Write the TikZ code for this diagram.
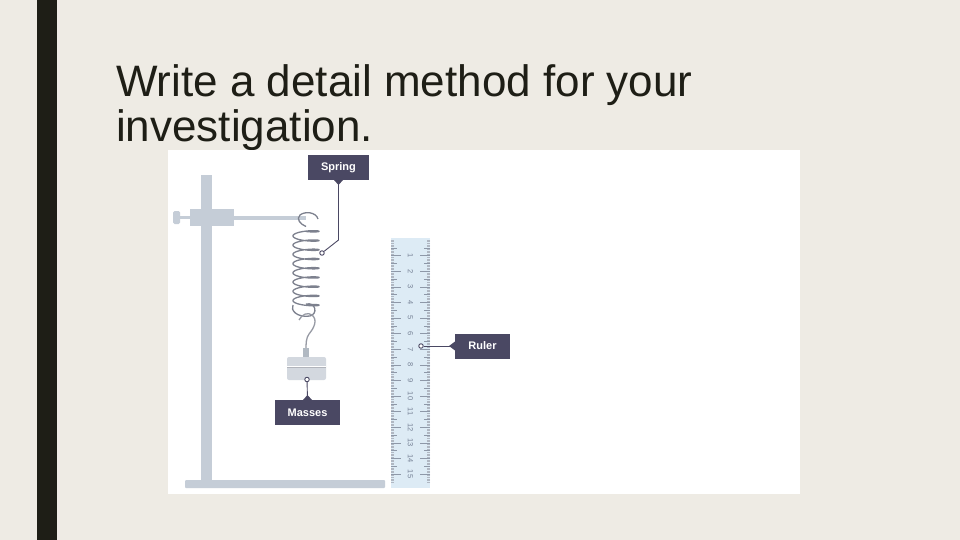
\documentclass[tikz,border=0pt]{standalone}
\usepackage{fontspec}
\setmainfont{Liberation Sans}
\definecolor{bg}{HTML}{EEEBE4}
\definecolor{barc}{HTML}{1E1E16}
\definecolor{standc}{HTML}{C5CDD7}
\definecolor{springc}{HTML}{7D818E}
\definecolor{labc}{HTML}{4A4863}
\definecolor{rulc}{HTML}{DDEBF5}
\definecolor{tickc}{HTML}{8E98A8}
\definecolor{massc}{HTML}{D3D8DF}
\tikzset{
  lab/.style={fill=labc,text=white,font=\bfseries\fontsize{11}{13}\selectfont,inner xsep=0pt,minimum height=25pt},
  lead/.style={draw=labc,line width=0.9pt},
  dot/.style={circle,draw=labc,fill=white,line width=0.9pt,inner sep=0pt,minimum size=4.5pt}
}
\begin{document}
\begin{tikzpicture}[x=1pt,y=-1pt]
\fill[bg] (0,0) rectangle (960,540);
\useasboundingbox (0,0) rectangle (960,540);
\fill[barc] (37,0) rectangle (57,540);
\node[anchor=base west,inner sep=0pt,text=barc,font=\fontsize{44}{45}\selectfont] (t1) at (116,97) {Write a detail method for your};
\node[anchor=base west,inner sep=0pt,text=barc,font=\fontsize{44}{45}\selectfont] (t2) at (116,142) {investigation.};
\fill[white] (168,150) rectangle (800,494);
% stand
\fill[standc] (201,175) rectangle (212,482);
\fill[standc,rounded corners=1pt] (185,480) rectangle (385,488);
\fill[standc] (234,215.5) rectangle (306,219.5);
\fill[standc] (178,216) rectangle (190,219);
\fill[standc,rounded corners=1.5pt] (173,211) rectangle (180,224);
\fill[standc] (190,209) rectangle (234,226);
% spring
\draw[springc,line width=1.3pt] plot[domain=0:3060,samples=500] ({306+13*sin(\x)},{229+\x/39+2.5*cos(\x)});
\draw[springc,line width=1.3pt] (306,226.5) .. controls (300,224) and (296,219) .. (300,215) .. controls (305,211) and (316,212) .. (318,219);
\draw[springc,line width=1.3pt] (293,305) .. controls (290,310) and (297,318) .. (310,316) .. controls (318,314) and (316,302) .. (306,304);
\draw[springc!80,line width=1.3pt] (299,320) .. controls (302,314) and (308,312) .. (312,315) .. controls (318,320) and (314,328) .. (309,334) .. controls (306,338) and (306,344) .. (306,349);
% mass
\fill[standc!90!black] (303,348) rectangle (309,357);
\fill[massc,rounded corners=2pt] (287,357) rectangle (326,380);
\draw[white,line width=1pt] (287,366) -- (326,366);
\draw[springc!60,line width=0.6pt] (287,367.5) -- (326,367.5);
% ruler
\fill[rulc] (391,238) rectangle (430,488);
\foreach \i in {0,...,155}{
  \pgfmathsetmacro\yy{240+\i*1.56}
  \draw[tickc!70,line width=0.3pt] (391,\yy) -- (394,\yy);
  \draw[tickc!70,line width=0.3pt] (430,\yy) -- (427,\yy);
}
\foreach \n in {1,...,15}{
  \pgfmathsetmacro\yy{240+\n*15.6}
  \draw[tickc,line width=0.5pt] (391,\yy) -- (401,\yy);
  \draw[tickc,line width=0.5pt] (430,\yy) -- (420,\yy);
  \pgfmathsetmacro\hy{\yy-7.8}
  \draw[tickc,line width=0.4pt] (391,\hy) -- (397,\hy);
  \draw[tickc,line width=0.4pt] (430,\hy) -- (424,\hy);
  \node[rotate=-90,text=tickc!120,font=\fontsize{7.5}{8}\selectfont,inner sep=0pt] at (410.5,\yy) {\n};
}
% labels
\node[lab,minimum width=61pt] (spring) at (338.5,167.5) {Spring};
\node[dot] (sd) at (322,253) {};
\fill[labc] (334,180) -- (343,180) -- (338.5,185) -- cycle;
\draw[lead] (spring.south) -- (338.5,240) -- (sd);
\node[lab,minimum width=65pt] (masses) at (307.5,412.5) {Masses};
\node[dot] (md) at (307,379.5) {};
\fill[labc] (303,400) -- (312,400) -- (307.5,395) -- cycle;
\draw[lead] (masses.north) -- (md);
\node[lab,minimum width=55pt] (ruler) at (482.5,346) {Ruler};
\node[dot] (rd) at (421,346) {};
\fill[labc] (455,341.5) -- (455,350.5) -- (449,346) -- cycle;
\draw[lead] (ruler.west) -- (rd);
\end{tikzpicture}
\end{document}
